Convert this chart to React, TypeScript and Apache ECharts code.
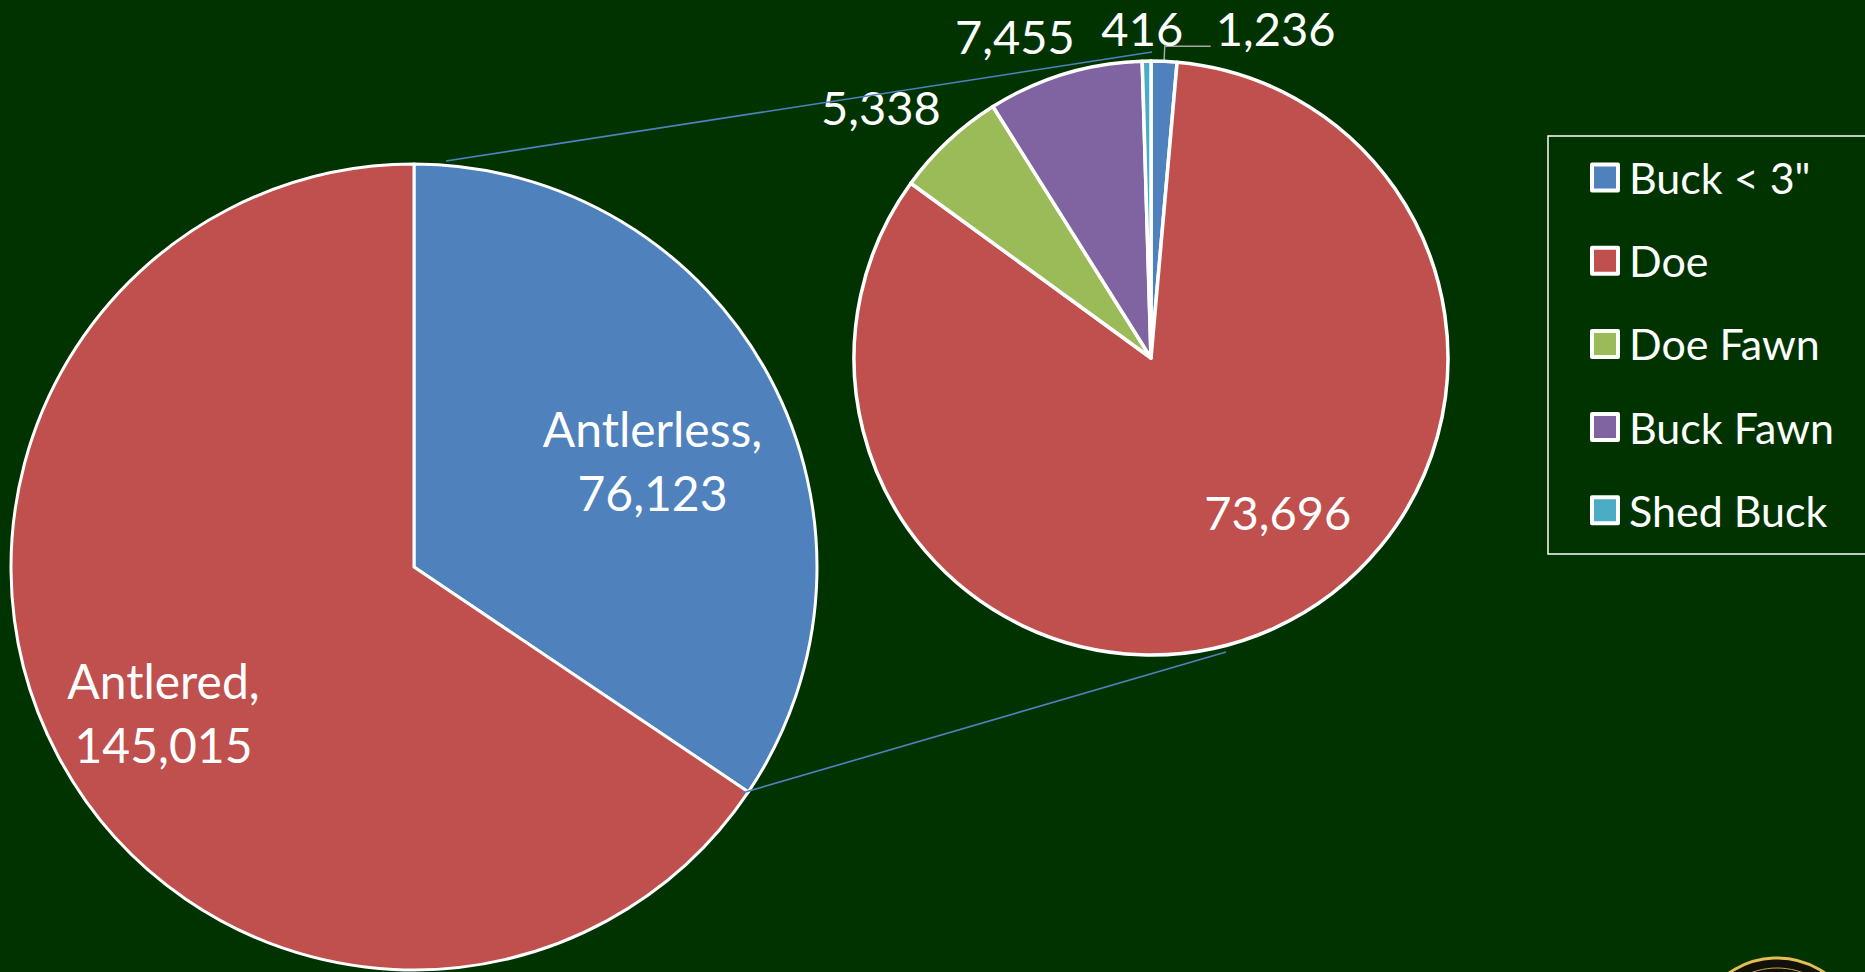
import React, { useEffect, useRef } from 'react';
import * as echarts from 'echarts';

// ---- data ----
const outerNames = ['Antlerless', 'Antlered'];
const outerValues = [76123, 145015];
const innerNames = ['Buck < 3"', 'Doe', 'Doe Fawn', 'Buck Fawn', 'Shed Buck'];
const innerValues = [1236, 73696, 5338, 7455, 416];
const outerColors = ['#4F81BD', '#C0504D'];
const innerColors = ['#4F81BD', '#C0504D', '#9BBB59', '#8064A2', '#4BACC6'];

// ---- layout ----
const BIG = { cx: 414, cy: 567, r: 403 };
const SMALL = { cx: 1151, cy: 358, r: 297 };
const FONT = 'Lato, "Open Sans", sans-serif';
const fmt = (v: number) => v.toLocaleString('en-US');

// label nudges (dx, dy) relative to ECharts default placement
const bigNudge: Array<[number, number]> = [[58, -10], [-70, 49]];
const smallNudge: Array<[number, number] | null> = [[0, -18], [64, 16], [18, -12], [24, -9], [42, -3]];

export default function App() {
  const ref = useRef<HTMLDivElement>(null);
  useEffect(() => {
    if (!ref.current) return;
    const chart = echarts.init(ref.current, undefined, { renderer: 'svg' });
    const baseLabel = {
      color: '#fff',
      fontFamily: FONT,
      fontSize: 48,
      textBorderWidth: 0,
      textShadowBlur: 0,
    };
    chart.setOption({
      animation: false,
      backgroundColor: '#003300',
      legend: {
        orient: 'vertical',
        left: 1590,
        top: 156,
        padding: 0,
        itemWidth: 26,
        itemHeight: 26,
        itemGap: 40.2,
        icon: 'rect',
        selectedMode: false,
        itemStyle: { borderColor: '#fff', borderWidth: 4 },
        textStyle: { color: '#fff', fontSize: 43, fontFamily: FONT, lineHeight: 42, padding: [0, 0, 0, 6] },
        data: innerNames,
      },
      graphic: [
        {
          type: 'rect',
          shape: { x: 1548, y: 136, width: 400, height: 418 },
          style: { fill: 'none', stroke: '#fff', lineWidth: 1.5 },
          z: 1,
        },
        {
          type: 'line',
          shape: { x1: 446, y1: 161, x2: 1152, y2: 52 },
          style: { stroke: '#4F81BD', lineWidth: 1.6 },
          z: 10,
        },
        {
          type: 'line',
          shape: { x1: 742, y1: 793, x2: 1226, y2: 652 },
          style: { stroke: '#4F81BD', lineWidth: 1.6 },
          z: 10,
        },
        {
          type: 'circle',
          shape: { cx: 1777, cy: 1042, r: 84 },
          style: { fill: '#111108', stroke: '#E2BE55', lineWidth: 3 },
          z: 1,
        },
        {
          type: 'circle',
          shape: { cx: 1777, cy: 1042, r: 74 },
          style: { fill: 'none', stroke: '#C9A54A', lineWidth: 1 },
          z: 1,
        },
      ],
      series: [
        {
          type: 'pie',
          center: [BIG.cx, BIG.cy],
          radius: BIG.r,
          startAngle: 90,
          clockwise: true,
          avoidLabelOverlap: false,
          silent: true,
          itemStyle: { borderColor: '#fff', borderWidth: 3 },
          label: {
            ...baseLabel,
            position: 'inside',
            lineHeight: 64,
            align: 'center',
            formatter: (p: any) => `${p.name},\n${fmt(p.value)}`,
          },
          labelLine: { show: false },
          labelLayout: (p: any) => {
            const n = bigNudge[p.dataIndex];
            return n ? { dx: n[0], dy: n[1] } : {};
          },
          data: outerNames.map((name, i) => ({
            name,
            value: outerValues[i],
            itemStyle: { color: outerColors[i] },
          })),
        },
        {
          type: 'pie',
          center: [SMALL.cx, SMALL.cy],
          radius: SMALL.r,
          startAngle: 90,
          clockwise: true,
          avoidLabelOverlap: false,
          silent: true,
          itemStyle: { borderColor: '#fff', borderWidth: 3.5 },
          label: {
            ...baseLabel,
            fontSize: 47,
            position: 'outside',
            lineHeight: 47,
            formatter: (p: any) => fmt(p.value),
          },
          labelLine: { show: false, length: 30, length2: 0 },
          labelLayout: (p: any) => {
            const n = smallNudge[p.dataIndex];
            return n ? { dx: n[0], dy: n[1] } : {};
          },
          data: innerNames.map((name, i) => {
            const item: any = {
              name,
              value: innerValues[i],
              itemStyle: { color: innerColors[i] },
            };
            if (i === 0) {
              item.labelLine = {
                show: true,
                length: 15,
                length2: 46,
                lineStyle: { color: '#A6A6A6', width: 1.5 },
              };
            }
            if (i === 1) {
              item.label = { position: 'inside' };
            }
            return item;
          }),
        },
      ],
    });
    return () => chart.dispose();
  }, []);
  return (
    <div
      ref={ref}
      style={{ position: 'fixed', left: 0, top: 0, width: 1865, height: 972, background: '#003300' }}
    />
  );
}
